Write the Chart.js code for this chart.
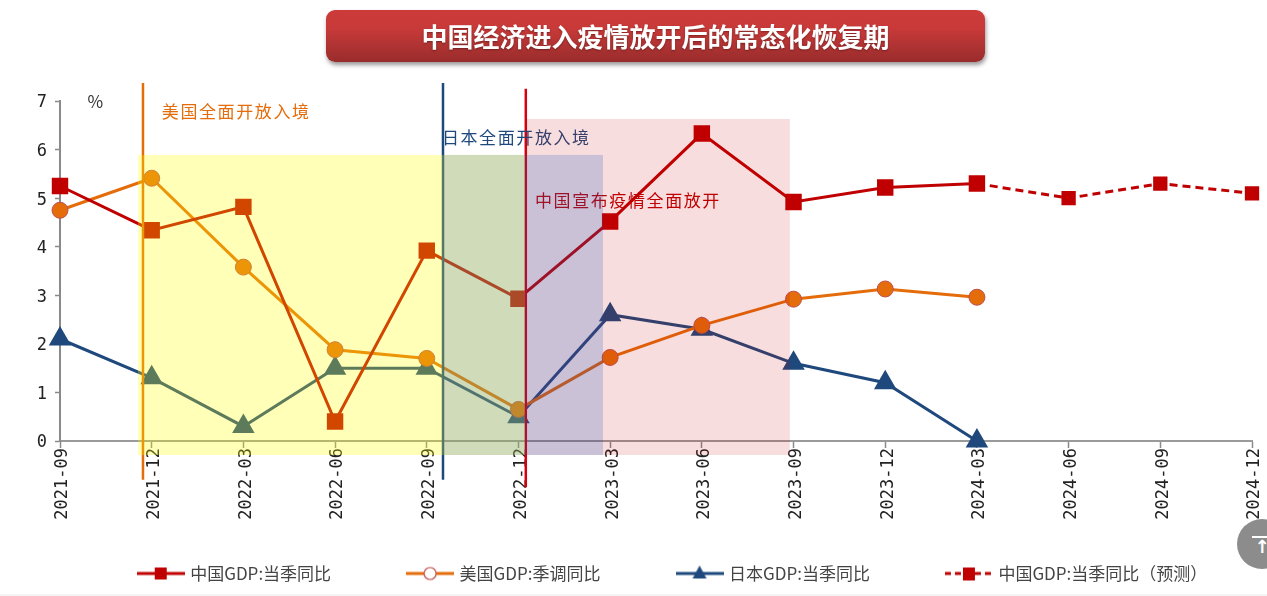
<!DOCTYPE html>
<html lang="zh">
<head>
<meta charset="utf-8">
<title>中国经济进入疫情放开后的常态化恢复期</title>
<script src="https://cdn.jsdelivr.net/npm/chart.js@4/dist/chart.umd.min.js"></script>
<style>
    html, body { margin: 0; padding: 0; background: #fff; overflow: hidden; }
    #wrap { position: relative; width: 1267px; height: 596px; overflow: hidden; }
    #chart { position: absolute; left: 0; top: 0; }
    #title {
        position: absolute; left: 326px; top: 10px; width: 659px; height: 52px;
        border-radius: 9px; background: linear-gradient(#cc3b3a 0%, #c83a39 35%, #992c2c 100%);
        box-shadow: 1px 3px 4px rgba(0, 0, 0, .4);
        color: #fff; text-align: center; line-height: 52px;
        font: bold 26px/52px "Noto Sans CJK SC", sans-serif; text-shadow: 0 1px 2px rgba(0, 0, 0, .35);
    }
    #footer { position: absolute; left: 0; top: 594px; width: 1267px; height: 2px; background: #f5f5f5; }
    #toTop { position: absolute; left: 1237px; top: 519px; width: 50px; height: 50px; border-radius: 50%; background: #8c8c8c; }
    #toTop i { position: absolute; left: 15px; top: 17px; width: 20px; height: 2px; background: #fff; }
    #toTop span { position: absolute; left: 15px; top: 17px; width: 20px; text-align: center; color: #fff; font: bold 18px/22px "DejaVu Sans", sans-serif; }
</style>
</head>
<body>
<div id="wrap">
    <canvas id="chart" width="1267" height="596"></canvas>
    <div id="title">中国经济进入疫情放开后的常态化恢复期</div>
    <div id="footer"></div>
    <div id="toTop"><i></i><span>↑</span></div>
</div>
<script>
// ===== DATA =====
const quarters = ['2021-09', '2021-12', '2022-03', '2022-06', '2022-09', '2022-12', '2023-03',
    '2023-06', '2023-09', '2023-12', '2024-03', '2024-06', '2024-09', '2024-12'];
const chinaGdp = [5.25, 4.34, 4.82, 0.4, 3.92, 2.93, 4.52, 6.33, 4.92, 5.22, 5.3, null, null, null];
const usGdp = [4.75, 5.41, 3.58, 1.88, 1.7, 0.65, 1.72, 2.38, 2.92, 3.13, 2.96, null, null, null];
const japanGdp = [2.1, 1.3, 0.3, 1.5, 1.5, 0.5, 2.6, 2.3, 1.6, 1.2, 0, null, null, null];
const chinaForecast = [null, null, null, null, null, null, null, null, null, null, 5.3, 5.0, 5.3, 5.1];
const yTicks = [0, 1, 2, 3, 4, 5, 6, 7];

const seriesNames = ['中国GDP:当季同比', '美国GDP:季调同比', '日本GDP:当季同比', '中国GDP:当季同比（预测）'];

// event lines, shaded periods and notes, in axis units (x = quarter index, y = %)
const eventLines = [
    { x: 0.905, y0: 7.37, y1: -0.8, color: '#e46c0a' },
    { x: 4.177, y0: 7.37, y1: -0.8, color: '#1f497d' },
    { x: 5.08, y0: 7.25, y1: -0.95, color: '#d60010' },
];
const eventNotes = [
    { x: 1.11, y: 6.78, text: '美国全面开放入境', color: '#e46c0a' },
    { x: 4.165, y: 6.25, text: '日本全面开放入境', color: '#1f497d' },
    { x: 5.18, y: 4.96, text: '中国宣布疫情全面放开', color: '#c00000' },
];
const periods = [
    { x0: 0.85, x1: 5.071, y0: 5.89, y1: -0.288, color: 'rgba(255,255,0,.28)' },
    { x0: 5.071, x1: 7.96, y0: 6.63, y1: -0.288, color: 'rgba(192,0,0,.135)' },
    { x0: 4.177, x1: 5.922, y0: 5.89, y1: -0.288, color: 'rgba(31,84,190,.21)' },
];

const FONT_CJK = '"Noto Sans CJK SC", sans-serif';
const FONT_MONO = '"DejaVu Sans Mono", monospace';

// ---- legend icons: line with marker ----
function legendIcon(color, dash, draw) {
    const c = document.createElement('canvas');
    c.width = 48; c.height = 18;
    const g = c.getContext('2d');
    g.strokeStyle = color; g.lineWidth = 2.8;
    g.setLineDash(dash);
    g.beginPath(); g.moveTo(0, 9); g.lineTo(48, 9); g.stroke();
    g.setLineDash([]);
    draw(g);
    return c;
}
const legendIcons = [
    legendIcon('#c00000', [], g => { g.fillStyle = '#c00000'; g.fillRect(18, 3, 12, 12); }),
    legendIcon('#e46c0a', [], g => {
        g.strokeStyle = '#c0504d'; g.lineWidth = 1.2; g.fillStyle = '#fff';
        g.beginPath(); g.arc(24, 9, 6, 0, Math.PI * 2); g.fill(); g.stroke();
    }),
    legendIcon('#1f497d', [], g => {
        g.fillStyle = '#1f497d';
        g.beginPath(); g.moveTo(24, 1); g.lineTo(31, 14); g.lineTo(17, 14); g.closePath(); g.fill();
    }),
    legendIcon('#c00000', [6, 4], g => { g.fillStyle = '#c00000'; g.fillRect(18, 3, 12, 13); }),
];

// ---- overlays sit on top of the lines, like the shapes pasted over the original chart ----
const eventOverlay = {
    id: 'eventOverlay',
    afterDatasetsDraw(chart) {
        const { ctx, scales: { x, y } } = chart;
        ctx.save();
        eventLines.forEach(l => {
            ctx.strokeStyle = l.color;
            ctx.lineWidth = 2.5;
            ctx.beginPath();
            ctx.moveTo(x.getPixelForValue(l.x), y.getPixelForValue(l.y0));
            ctx.lineTo(x.getPixelForValue(l.x), y.getPixelForValue(l.y1));
            ctx.stroke();
        });
        ctx.font = '17px ' + FONT_CJK;
        ctx.letterSpacing = '1.6px';
        ctx.textBaseline = 'middle';
        eventNotes.forEach(n => {
            ctx.fillStyle = n.color;
            ctx.fillText(n.text, x.getPixelForValue(n.x), y.getPixelForValue(n.y));
        });
        ctx.letterSpacing = '0px';
        periods.forEach(p => {
            const left = x.getPixelForValue(p.x0);
            const top = y.getPixelForValue(p.y0);
            ctx.fillStyle = p.color;
            ctx.fillRect(left, top, x.getPixelForValue(p.x1) - left, y.getPixelForValue(p.y1) - top);
        });
        // unit label
        ctx.fillStyle = '#333';
        ctx.font = '17px ' + FONT_CJK;
        ctx.fillText('%', x.getPixelForValue(0.3), y.getPixelForValue(6.98));
        ctx.restore();
    }
};

// the original legend is not centred on the page, nudge it after layout
const legendNudge = {
    id: 'legendNudge',
    afterLayout(chart) {
        const lg = chart.legend;
        lg.left += 40; lg.right += 40;
        lg.top = 574 - 78 - 9; lg.bottom = lg.top + 110;
    }
};

function lineSet(label, data, color, extra) {
    return Object.assign({
        label, data,
        borderColor: color, backgroundColor: color,
        pointBackgroundColor: color, pointBorderColor: color,
        borderWidth: 3, tension: 0, clip: false, spanGaps: false,
    }, extra);
}

new Chart(document.getElementById('chart'), {
    type: 'line',
    data: {
        labels: quarters,
        datasets: [
            lineSet(seriesNames[3], chinaForecast, '#c00000', { borderDash: [8, 5], pointStyle: 'rect', pointRadius: 8 }),
            lineSet(seriesNames[0], chinaGdp, '#c00000', { pointStyle: 'rect', pointRadius: 9.5 }),
            lineSet(seriesNames[1], usGdp, '#e46c0a', { pointStyle: 'circle', pointRadius: 8, pointBorderColor: '#c0504d', pointBorderWidth: 1 }),
            lineSet(seriesNames[2], japanGdp, '#1f497d', { pointStyle: 'triangle', pointRadius: 10 }),
        ]
    },
    options: {
        responsive: false,
        animation: false,
        layout: { padding: { top: 101, right: 0, left: 0, bottom: -50 } },
        plugins: {
            title: { display: false },
            tooltip: { enabled: false },
            legend: {
                position: 'bottom',
                labels: {
                    usePointStyle: true,
                    pointStyleWidth: 42,
                    padding: 78,
                    color: '#444',
                    font: { family: FONT_CJK, size: 17 },
                    generateLabels(chart) {
                        const items = Chart.defaults.plugins.legend.labels.generateLabels(chart);
                        const byName = seriesNames.map((n, i) => {
                            const it = items.find(o => o.text === n);
                            it.pointStyle = legendIcons[i];
                            return it;
                        });
                        return byName;
                    }
                }
            }
        },
        scales: {
            x: {
                offset: false,
                grid: { drawOnChartArea: false, drawTicks: true, tickLength: 7, tickColor: '#8a8a8a', tickWidth: 1.5 },
                border: { color: '#9a9a9a', width: 2 },
                ticks: {
                    autoSkip: false, minRotation: 90, maxRotation: 90, padding: 0, labelOffset: 3,
                    color: '#222', font: { family: FONT_MONO, size: 17 }
                },
                afterFit(scale) { scale.height = 100; scale.paddingRight = 15; }
            },
            y: {
                min: 0, max: 7,
                afterBuildTicks(scale) { scale.ticks = yTicks.map(v => ({ value: v })); },
                grid: { drawOnChartArea: false, drawTicks: true, tickLength: 5, tickColor: '#8a8a8a', tickWidth: 1.5 },
                border: { color: '#8a8a8a', width: 2 },
                ticks: { padding: 8, labelOffset: 2, color: '#222', font: { family: FONT_MONO, size: 17 } },
                afterFit(scale) { scale.width = 60; }
            }
        }
    },
    plugins: [eventOverlay, legendNudge]
});
</script>
</body>
</html>
